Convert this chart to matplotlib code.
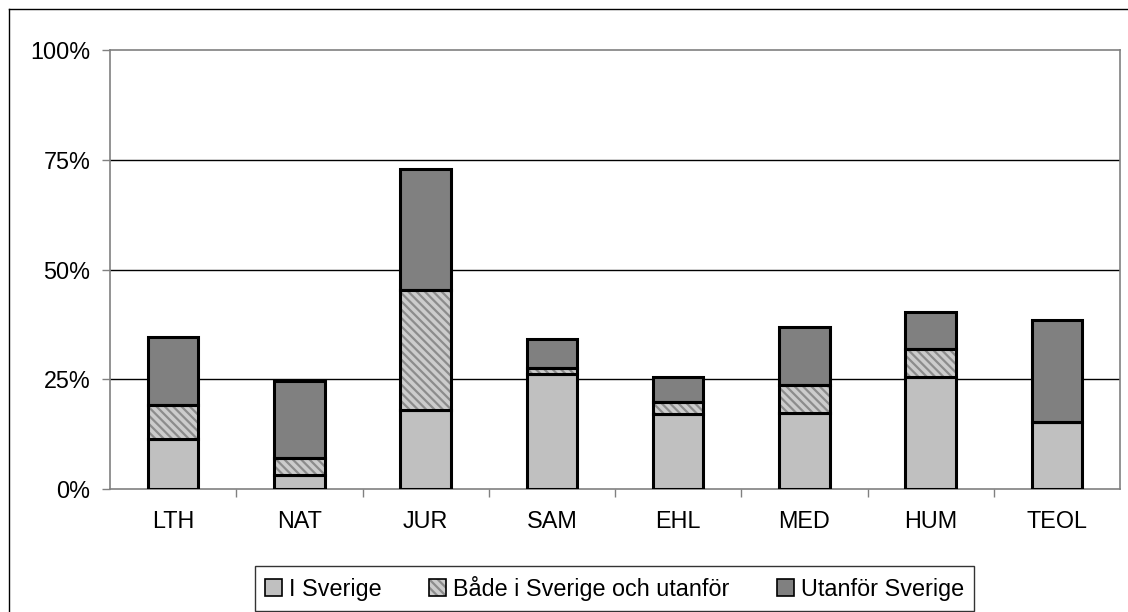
import matplotlib
matplotlib.use("Agg")
import matplotlib.pyplot as plt
from matplotlib.patches import Patch
from matplotlib.lines import Line2D
from matplotlib.ticker import FixedLocator
import numpy as np

categories = ["LTH", "NAT", "JUR", "SAM", "EHL", "MED", "HUM", "TEOL"]
i_sverige = [11.4, 3.3, 18.1, 26.1, 17.1, 17.2, 25.4, 15.2]
bade = [7.8, 3.7, 27.3, 1.5, 2.7, 6.5, 6.4, 0.0]
utanfor = [15.4, 17.5, 27.4, 6.6, 5.8, 13.2, 8.5, 23.2]
series_names = ["I Sverige", "Både i Sverige och utanför", "Utanför Sverige"]
ytick_vals = [0, 25, 50, 75, 100]
ytick_labels = ["0%", "25%", "50%", "75%", "100%"]

plt.rcParams['font.family'] = ['Liberation Sans', 'DejaVu Sans']
plt.rcParams['hatch.linewidth'] = 1.6

W, H = 1128, 612
fig = plt.figure(figsize=(W / 100, H / 100), dpi=100)
ax = fig.add_axes([110 / W, 1 - 489 / H, (1120 - 110) / W, (489 - 50) / H])

x = np.arange(len(categories))
width = 0.4
light = "#c0c0c0"
hatch_bg = "#cccccc"
hatch_fg = "#8c8c8c"
dark = "#808080"
lw = 2.2
fs = 16.8

b1 = np.array(i_sverige)
b2 = b1 + np.array(bade)

ax.bar(x, i_sverige, width, color=light, edgecolor="black", linewidth=lw, zorder=3)
ax.bar(x, bade, width, bottom=b1, color=hatch_bg, edgecolor=hatch_fg, linewidth=0,
       hatch="\\\\\\\\", zorder=3)
ax.bar(x, bade, width, bottom=b1, fill=False, edgecolor="black", linewidth=lw, zorder=4)
ax.bar(x, utanfor, width, bottom=b2, color=dark, edgecolor="black", linewidth=lw, zorder=3)

ax.set_xlim(-0.5, len(categories) - 0.5)
ax.set_ylim(0, 100)
ax.set_yticks(ytick_vals)
ax.set_yticklabels(ytick_labels)
ax.set_xticks(x)
ax.set_xticklabels(categories)
ax.tick_params(axis="x", length=0, pad=15, labelsize=fs)
ax.xaxis.set_minor_locator(FixedLocator(np.arange(0.5, len(categories) - 0.5, 1)))
ax.tick_params(axis="x", which="minor", length=6, width=1, color="#808080", direction="out")
ax.tick_params(axis="y", length=6, width=1, color="#808080", pad=8, labelsize=fs)

for v in [25, 50, 75]:
    ax.axhline(v, color="black", linewidth=1.0, zorder=1)

for s in ["top", "right", "bottom", "left"]:
    ax.spines[s].set_color("#808080")
    ax.spines[s].set_linewidth(1.2)

handles = [
    Patch(facecolor=light, edgecolor="black", linewidth=1.2),
    (Patch(facecolor=hatch_bg, edgecolor=hatch_fg, linewidth=0, hatch="\\\\\\\\"),
     Patch(fill=False, edgecolor="black", linewidth=1.2)),
    Patch(facecolor=dark, edgecolor="black", linewidth=1.2),
]
leg = fig.legend(handles, series_names, loc="upper left",
                 bbox_to_anchor=(255 / W, 1 - 566 / H), ncol=3, frameon=True,
                 fancybox=False, edgecolor="black", fontsize=fs,
                 handlelength=0.72, handleheight=0.72, handletextpad=0.3,
                 columnspacing=2.05, borderpad=0.42, borderaxespad=0)
leg.get_frame().set_linewidth(1.0)

# outer chart border (left and top edges visible)
fig.add_artist(Line2D([8.5 / W, 8.5 / W], [0, 1 - 9 / H], transform=fig.transFigure,
                      color="black", linewidth=1.0))
fig.add_artist(Line2D([8.5 / W, 1], [1 - 9 / H, 1 - 9 / H], transform=fig.transFigure,
                      color="black", linewidth=1.0))

fig.savefig("out.png", dpi=100)
